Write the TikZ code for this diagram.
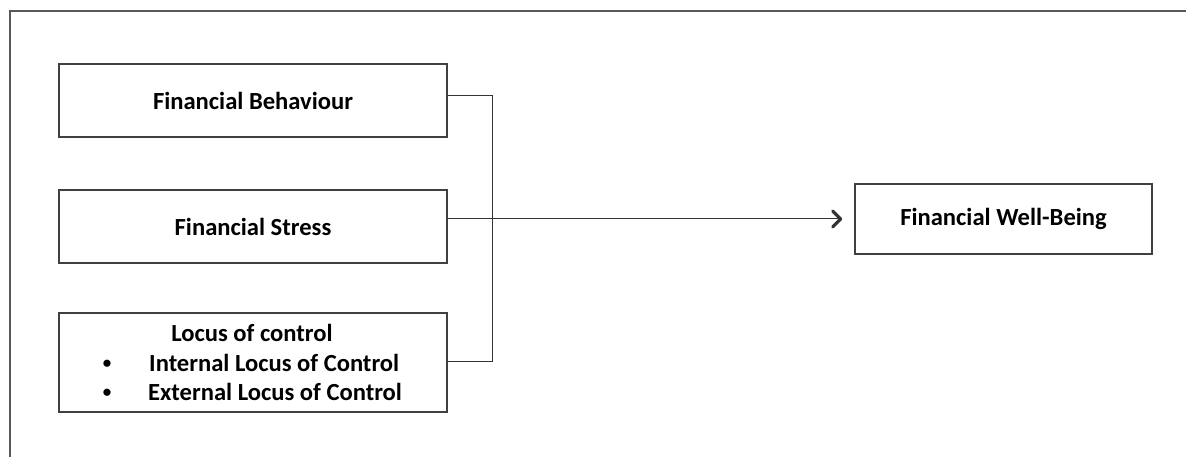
\documentclass[tikz,border=0pt]{standalone}
\usepackage{fontspec}
\setmainfont{Carlito}
\usetikzlibrary{arrows.meta,calc}
\newcommand{\boxfont}{\fontsize{24.6}{29}\selectfont\bfseries}
\begin{document}
\begin{tikzpicture}[x=1pt,y=-1pt,
  box/.style={draw=black!75,line width=1.4pt,fill=white,inner sep=0pt,minimum width=388pt,minimum height=73pt,font=\boxfont},
  lbl/.style={inner sep=0pt,font=\boxfont,anchor=west},
  dot/.style={inner sep=0pt,anchor=center,font=\fontsize{17}{20}\selectfont\bfseries},
  conn/.style={draw=black!80,line width=1pt}]
\useasboundingbox (0,0) rectangle (1186,457);
\draw[draw=black!65,line width=1.4pt] (10,457) -- (10,11) -- (1186,11);
\node[box] (b1) at (253,100.5) {Financial Behaviour};
\node[box] (b2) at (253,226.5) {Financial Stress};
\node[box,minimum height=99pt] (b3) at (253,362.5) {};
\node[inner sep=0pt,font=\boxfont] (l0) at (252,333) {Locus of control};
\node[lbl] (l1) at (149,363) {Internal Locus of Control};
\node[lbl] (l2) at (148,392) {External Locus of Control};
\node[dot] (d1) at (107,364) {\textbullet};
\node[dot] (d2) at (107,393) {\textbullet};
\node[box,minimum width=297pt,minimum height=70pt] (t) at (1003.5,219) {Financial Well-Being};
\coordinate (jt) at (492,96);
\coordinate (jb) at (492,361);
\draw[conn] (b1.east |- jt) -- (jt) -- (jb) -- (b3.east |- jb);
\draw[conn,-{Straight Barb[length=8pt,width=16pt,line width=3.2pt,round]},shorten >=12pt] (b2.east |- t.west) -- (t.west);
\end{tikzpicture}
\end{document}
